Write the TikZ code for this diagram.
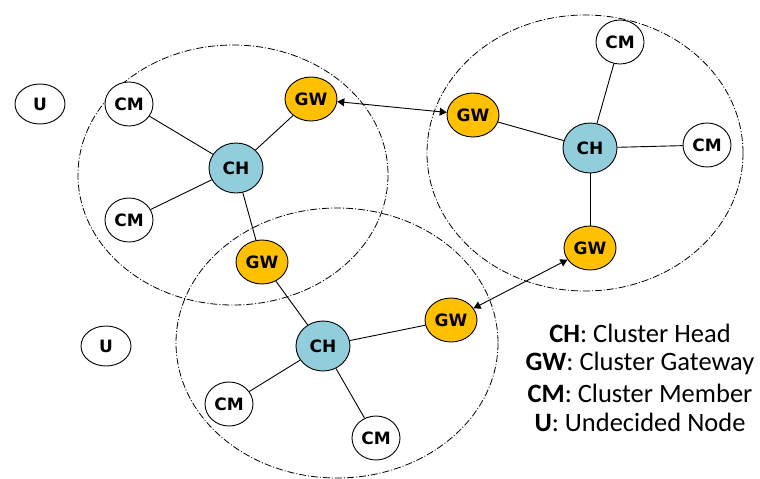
\documentclass[tikz,border=0pt]{standalone}
\usepackage{fontspec}
\setmainfont{Carlito}
\newfontfamily\nodefont{DejaVu Sans}
\usetikzlibrary{arrows}
\usetikzlibrary{shapes.geometric}
\definecolor{gwcol}{HTML}{FFC000}
\definecolor{chcol}{HTML}{92CDDC}
\tikzset{
  nd/.style={draw,ellipse,line width=0.9pt,minimum width=50pt,minimum height=44pt,inner sep=0pt,
    font=\nodefont\bfseries\fontsize{17}{17}\selectfont},
  chnode/.style={nd,fill=chcol,minimum width=54pt,minimum height=50pt},
  gwnode/.style={nd,fill=gwcol,minimum width=52pt,minimum height=44pt},
  cmnode/.style={nd,fill=white,minimum width=48pt,minimum height=44pt},
  unode/.style={nd,fill=white,minimum width=50pt,minimum height=40pt},
  zone/.style={line width=0.8pt,dash pattern=on 7pt off 2pt on 1pt off 2pt},
  link/.style={line width=0.9pt},
  legend/.style={font=\fontsize{26.5}{26.5}\selectfont}
}
\begin{document}
\begin{tikzpicture}[line cap=butt,line join=round,>=triangle 60,x=1pt,y=-1pt]
\useasboundingbox (0,0) rectangle (760,479);
% cluster zones
\draw [zone] (233,175) ellipse (155 and 130);
\draw [zone] (585,153) ellipse (158 and 138);
\draw [zone] (337,343) ellipse (161 and 135);
% nodes
\node[unode] (u1) at (40,104) {U};
\node[unode] (u2) at (106,346) {U};
\node[chnode] (ch1) at (236,168) {CH};
\node[chnode] (ch2) at (590,148) {CH};
\node[chnode] (ch3) at (323,346) {CH};
\node[gwnode] (gw1) at (311,99) {GW};
\node[gwnode] (gw2) at (262,262) {GW};
\node[gwnode] (gw3) at (473,115) {GW};
\node[gwnode] (gw4) at (590,248) {GW};
\node[gwnode] (gw5) at (451,320) {GW};
\node[cmnode] (cm1) at (129,104) {CM};
\node[cmnode] (cm2) at (129,220) {CM};
\node[cmnode] (cm3) at (620,42) {CM};
\node[cmnode] (cm4) at (707,145) {CM};
\node[cmnode] (cm5) at (229,404) {CM};
\node[cmnode] (cm6) at (376,438) {CM};
% links
\draw [link] (ch1)--(cm1);
\draw [link] (ch1)--(cm2);
\draw [link] (ch1)--(gw1);
\draw [link] (ch1)--(gw2);
\draw [link] (gw2)--(ch3);
\draw [link] (ch3)--(gw5);
\draw [link] (ch3)--(cm5);
\draw [link] (ch3)--(cm6);
\draw [link] (ch2)--(gw3);
\draw [link] (ch2)--(cm3);
\draw [link] (ch2)--(cm4);
\draw [link] (ch2)--(gw4);
\draw [link,<->] (gw1)--(gw3);
\draw [link,<->] (gw5)--(gw4);
% legend
\node[legend] (l1) at (640,333) {\textbf{CH}: Cluster Head};
\node[legend] (l2) at (640,363) {\textbf{GW}: Cluster Gateway};
\node[legend] (l3) at (640,393) {\textbf{CM}: Cluster Member};
\node[legend] (l4) at (640,422) {\textbf{U}: Undecided Node};
\end{tikzpicture}
\end{document}
